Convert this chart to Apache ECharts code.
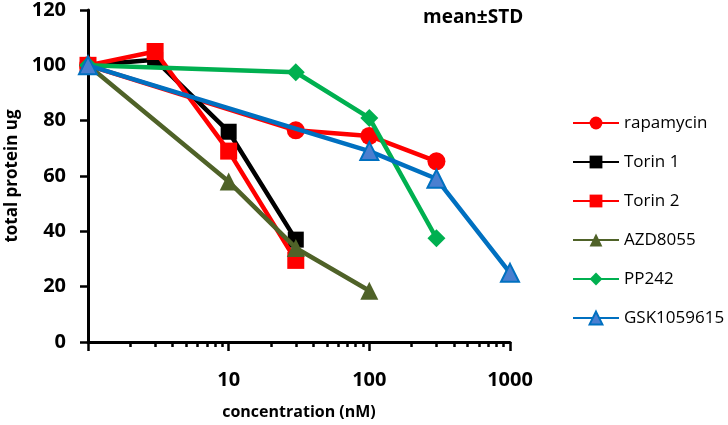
<!DOCTYPE html>
<html>
<head>
<meta charset="utf-8">
<script src="https://cdn.jsdelivr.net/npm/echarts@6/dist/echarts.min.js"></script>
<style>
  html, body { margin: 0; padding: 0; background: #fff; }
  #chart { width: 728px; height: 425px; }
</style>
</head>
<body>
<div id="chart"></div>
<script>
// values
const seriesNames = ['rapamycin', 'Torin 1', 'Torin 2', 'AZD8055', 'PP242', 'GSK1059615'];
const rapamycinX = [1, 30, 100, 300];
const rapamycinY = [100, 76.5, 74.5, 65.3];
const torin1X = [1, 3, 10, 30];
const torin1Y = [100, 102, 76, 37];
const torin2X = [1, 3, 10, 30];
const torin2Y = [100, 105, 69, 29.5];
const azdX = [1, 10, 30, 100];
const azdY = [100, 58, 34, 18.5];
const pp242X = [1, 30, 100, 300];
const pp242Y = [100, 97.5, 81, 37.5];
const gskX = [1, 100, 300, 1000];
const gskY = [100, 69, 59, 25];
const majorTicks = [1, 10, 100, 1000];
const minorTicks = [2, 3, 4, 5, 6, 7, 8, 9, 20, 30, 40, 50, 60, 70, 80, 90, 200, 300, 400, 500, 600, 700, 800, 900];
const xLabels = [10, 100, 1000];

const font = 'Open Sans';
const pairs = (xs, ys) => xs.map((x, i) => [x, ys[i]]);

const look = [
  { x: rapamycinX, y: rapamycinY, color: '#FF0000', symbol: 'circle', size: 18 },
  { x: torin1X, y: torin1Y, color: '#000000', symbol: 'rect', size: 16 },
  { x: torin2X, y: torin2Y, color: '#FF0000', symbol: 'rect', size: 17 },
  { x: azdX, y: azdY, color: '#4F6228', symbol: 'triangle', size: 18 },
  { x: pp242X, y: pp242Y, color: '#00B050', symbol: 'diamond', size: 18 },
  { x: gskX, y: gskY, color: '#0070C0', fill: '#4A7FD0', symbol: 'triangle', size: 18 }
];

// tick-only axes in decade units (log10 of the concentration)
const tickAxis = (values, len) => ({
  type: 'value',
  min: 0,
  max: 3,
  position: 'bottom',
  axisLine: { show: false },
  axisTick: { show: true, length: len, lineStyle: { color: '#000', width: 2.5 }, customValues: values.map(Math.log10) },
  axisLabel: { show: false },
  splitLine: { show: false }
});

let myChart = echarts.init(document.getElementById('chart'));
myChart.setOption({
  animation: false,
  title: {
    text: 'mean±STD',
    left: 418,
    top: 3,
    textStyle: { fontFamily: font, fontWeight: 'bold', fontSize: 19, color: '#000' }
  },
  grid: { left: 88, right: 218, top: 10, bottom: 83, outerBoundsMode: 'none', containLabel: false },
  legend: {
    orient: 'vertical',
    left: 567,
    top: 108,
    itemWidth: 46,
    itemHeight: 16,
    itemGap: 19,
    textStyle: { fontFamily: font, fontSize: 17, color: '#000', lineHeight: 20 },
    data: seriesNames
  },
  xAxis: [
    {
      type: 'log',
      logBase: 10,
      min: 1,
      max: 1000,
      name: 'concentration (nM)',
      nameLocation: 'middle',
      nameGap: 62,
      nameTextStyle: { fontFamily: font, fontWeight: 'bold', fontSize: 16, color: '#000' },
      axisLine: { lineStyle: { color: '#000', width: 3 } },
      axisTick: { show: false },
      axisLabel: {
        customValues: xLabels,
        formatter: v => String(v),
        margin: 28,
        fontFamily: font, fontWeight: 'bold', fontSize: 20, color: '#000'
      },
      splitLine: { show: false }
    },
    tickAxis(majorTicks, 9),
    tickAxis(minorTicks, 5)
  ],
  yAxis: {
    type: 'value',
    min: 0,
    max: 120,
    interval: 20,
    name: 'total protein ug',
    nameLocation: 'middle',
    nameGap: 66,
    nameTextStyle: { fontFamily: font, fontWeight: 'bold', fontSize: 17, color: '#000' },
    axisLine: { show: true, lineStyle: { color: '#000', width: 3 } },
    axisTick: { show: true, length: 8, lineStyle: { color: '#000', width: 2.5 } },
    axisLabel: { margin: 22, fontFamily: font, fontWeight: 'bold', fontSize: 20, color: '#000' },
    splitLine: { show: false }
  },
  series: look.map((s, i) => ({
    name: seriesNames[i],
    type: 'line',
    xAxisIndex: 0,
    data: pairs(s.x, s.y),
    symbol: s.symbol,
    symbolSize: s.size,
    showAllSymbol: true,
    lineStyle: { color: s.color, width: 4.5 },
    itemStyle: {
      color: s.fill || s.color,
      borderColor: s.color,
      borderWidth: s.fill ? 2 : 0,
      opacity: 1
    },
    z: 2 + i
  }))
});
</script>
</body>
</html>
